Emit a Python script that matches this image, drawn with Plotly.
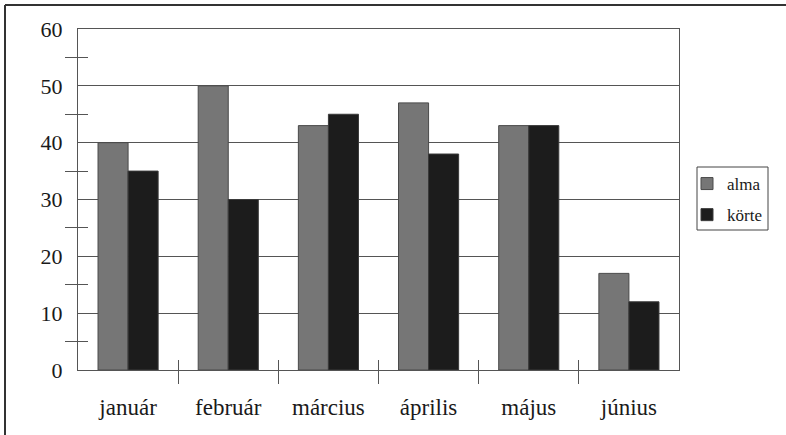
import plotly.graph_objects as go

categories = ["január", "február", "március", "április", "május", "június"]
alma = [40, 50, 43, 47, 43, 17]
korte = [35, 30, 45, 38, 43, 12]
series_names = ["alma", "körte"]
y_ticks = [0, 10, 20, 30, 40, 50, 60]

FONT = "'Liberation Serif', 'Times New Roman', Times, serif"
W, H = 786, 435
ML, MR, MT, MB = 78, 107, 29, 65
PW, PH = W - ML - MR, H - MT - MB


def px_x(p):
    return (p - ML) / PW


def px_y(p):
    return (MT + PH - p) / PH


fig = go.Figure()
fig.add_bar(x=categories, y=alma, name=series_names[0], legendgroup="g1",
            marker=dict(color="#767676", line=dict(color="#4a4a4a", width=1)))
fig.add_bar(x=categories, y=korte, name=series_names[1], legendgroup="g2",
            marker=dict(color="#1c1c1c", line=dict(color="#3a3a3a", width=1)))

# invisible helper traces for overlay axes
fig.add_scatter(x=[None], y=[None], xaxis="x2", yaxis="y2", showlegend=False, hoverinfo="skip")
fig.add_scatter(x=[None], y=[None], xaxis="x3", yaxis="y3", showlegend=False, hoverinfo="skip")

n = len(categories)
bounds = [i + 0.5 for i in range(n - 1)]

fig.update_layout(
    width=W, height=H,
    margin=dict(l=ML, r=MR, t=MT, b=MB, autoexpand=False),
    paper_bgcolor="white", plot_bgcolor="white",
    font=dict(family=FONT, size=22, color="#1a1a1a"),
    barmode="group", bargap=0.4, bargroupgap=0,
    showlegend=True,
    legend=dict(x=px_x(687), y=px_y(199.5), xanchor="left", yanchor="middle",
                borderwidth=0, bgcolor="rgba(0,0,0,0)",
                font=dict(family=FONT, size=17), itemwidth=30,
                tracegroupgap=6, traceorder="grouped"),
    xaxis=dict(type="category", showgrid=False, ticks="",
               showline=True, linecolor="#555", linewidth=1, mirror=True,
               ticklabelstandoff=16, tickfont=dict(family=FONT, size=23)),
    yaxis=dict(range=[0, 60], tickvals=y_ticks, showgrid=True, gridcolor="#555",
               gridwidth=1, ticks="", showline=True, linecolor="#555", linewidth=1,
               mirror=True, ticklabelstandoff=10, tickfont=dict(family=FONT, size=22),
               zeroline=False,
               minor=dict(tick0=5, dtick=10, ticks="outside", ticklen=12,
                          tickcolor="#555", showgrid=False)),
    yaxis2=dict(overlaying="y", range=[0, 60], showgrid=False, showticklabels=False,
                ticks="", zeroline=False,
                minor=dict(tick0=5, dtick=10, ticks="inside", ticklen=10,
                           tickcolor="#555", showgrid=False)),
    xaxis2=dict(overlaying="x", range=[-0.5, n - 0.5], showgrid=False, showticklabels=False,
                tickvals=bounds, ticks="outside", ticklen=13, tickcolor="#555", zeroline=False),
    yaxis3=dict(overlaying="y", range=[0, 60], showgrid=False, showticklabels=False,
                ticks="", zeroline=False),
    xaxis3=dict(overlaying="x", range=[-0.5, n - 0.5], showgrid=False, showticklabels=False,
                tickvals=bounds, ticks="inside", ticklen=10, tickcolor="#555", zeroline=False),
)

# legend frame
fig.add_shape(type="rect", xref="paper", yref="paper",
              x0=px_x(697), x1=px_x(768), y0=px_y(230), y1=px_y(167),
              line=dict(color="#444", width=1), layer="below")

# outer frame (top and left edges only)
fig.add_shape(type="line", xref="paper", yref="paper", x0=px_x(5), x1=px_x(W + 5),
              y0=px_y(5), y1=px_y(5), line=dict(color="#333", width=2))
fig.add_shape(type="line", xref="paper", yref="paper", x0=px_x(5), x1=px_x(5),
              y0=px_y(5), y1=px_y(H + 5), line=dict(color="#333", width=2))

fig.write_html("out.html", config={"displayModeBar": False},
               post_script="document.body.style.margin='0';document.body.style.overflow='hidden';")
